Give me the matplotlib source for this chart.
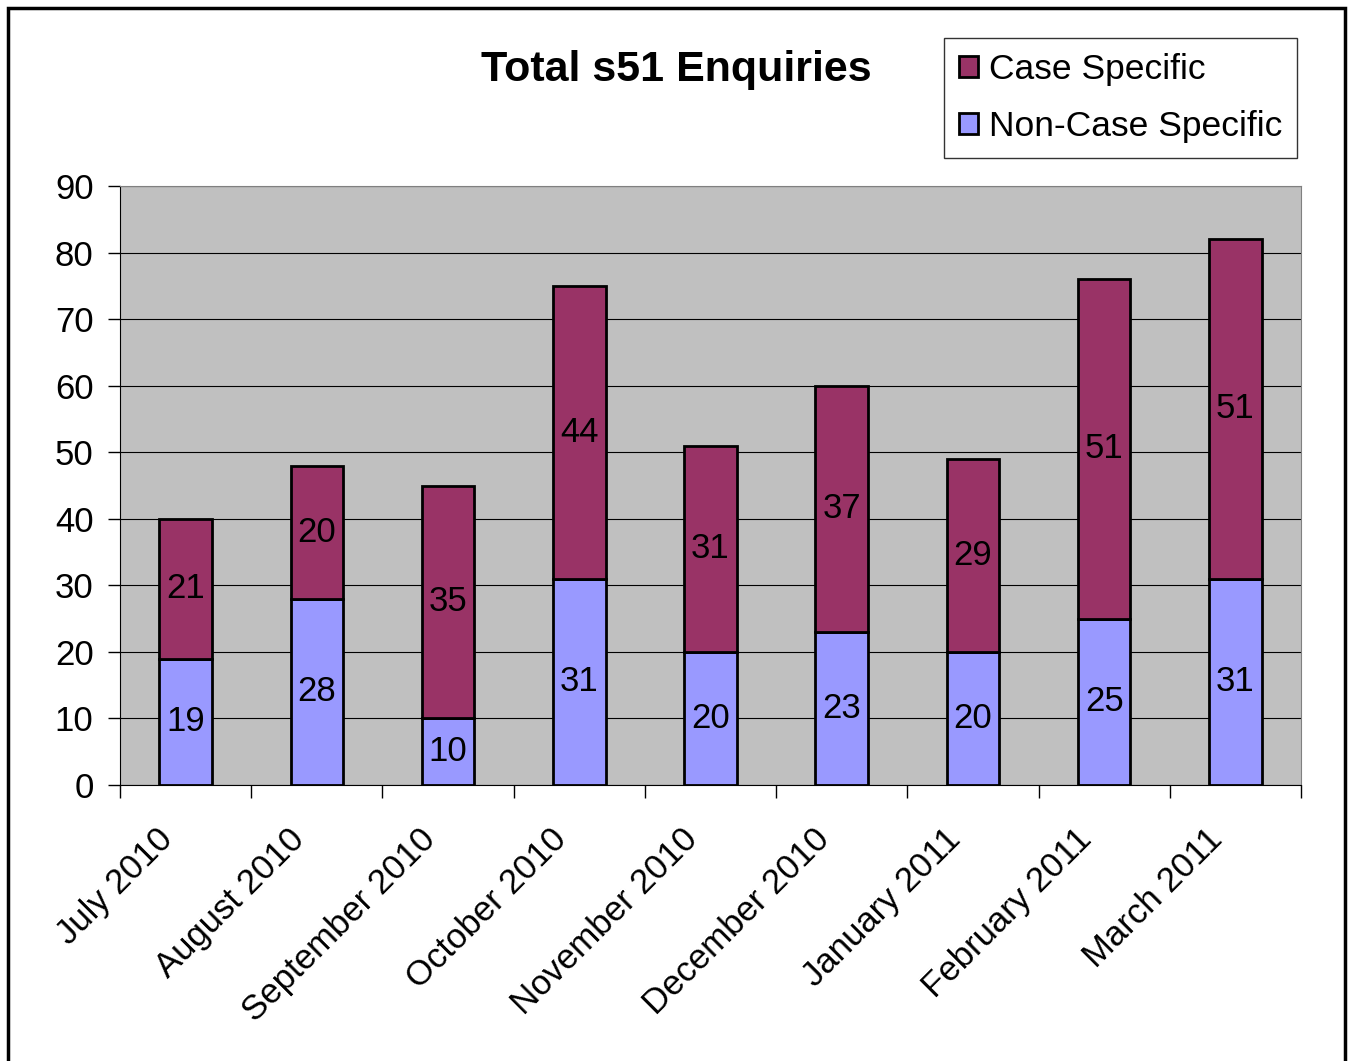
import numpy as np
import matplotlib
matplotlib.use("Agg")
import matplotlib.pyplot as plt
from matplotlib.patches import Rectangle
import matplotlib.transforms as mtransforms

months = ["July 2010", "August 2010", "September 2010", "October 2010",
          "November 2010", "December 2010", "January 2011", "February 2011",
          "March 2011"]
non_case = [19, 28, 10, 31, 20, 23, 20, 25, 31]
case_spec = [21, 20, 35, 44, 31, 37, 29, 51, 51]

plt.rcParams['font.family'] = ['Liberation Sans', 'DejaVu Sans']

fig = plt.figure(figsize=(13.5, 10.61), dpi=100)
fig.patches.append(Rectangle((8/1350, -0.01), 1337/1350, 1 - 8/1061 + 0.01,
                             transform=fig.transFigure, fill=False,
                             edgecolor='black', linewidth=2.5))

ax = fig.add_axes([120/1350, 1 - 785/1061, 1181/1350, 599/1061])
ax.set_facecolor('#C0C0C0')

x = np.arange(len(months))
w = 0.4
b1 = ax.bar(x, non_case, w, color='#9999FF', edgecolor='black', linewidth=2,
            label='Non-Case Specific', zorder=3)
b2 = ax.bar(x, case_spec, w, bottom=non_case, color='#993366', edgecolor='black',
            linewidth=2, label='Case Specific', zorder=3)

for i in range(len(months)):
    ax.text(x[i], non_case[i] / 2, str(non_case[i]), ha='center', va='center',
            fontsize=25, zorder=4)
    ax.text(x[i], non_case[i] + case_spec[i] / 2, str(case_spec[i]),
            ha='center', va='center', fontsize=25, zorder=4)

ax.set_xlim(-0.5, len(months) - 0.5)
ax.set_ylim(0, 90)
ax.set_yticks(range(0, 91, 10))
ax.yaxis.grid(True, color='black', linewidth=0.8, zorder=1)
ax.set_axisbelow(True)
ax.tick_params(axis='y', labelsize=25, length=9, width=1, direction='out', pad=10)

ax.set_xticks(x)
ax.set_xticklabels(months, rotation=45, ha='right', va='top', fontsize=25)
ax.tick_params(axis='x', length=0, pad=27)
shift = mtransforms.ScaledTranslation(-6/100, 0, fig.dpi_scale_trans)
for lab in ax.get_xticklabels():
    lab.set_transform(lab.get_transform() + shift)
ax.set_xticks(np.arange(-0.5, len(months), 1), minor=True)
ax.tick_params(axis='x', which='minor', length=9, width=1, direction='out')

for s in ['top', 'right']:
    ax.spines[s].set_color('#808080')
for s in ['left', 'bottom']:
    ax.spines[s].set_color('black')

fig.text(676/1350, 1 - 70/1061, 'Total s51 Enquiries', ha='center', va='center',
         fontsize=31, fontweight='bold')

handles = [b2, b1]
leg = fig.legend(handles, ['Case Specific', 'Non-Case Specific'],
                 loc='upper right', bbox_to_anchor=(1297/1350, 1 - 38/1061),
                 fontsize=25.5, frameon=True, fancybox=False, edgecolor='black',
                 handlelength=0.55, handleheight=0.55, handletextpad=0.3,
                 labelspacing=0.68, borderpad=0.42, borderaxespad=0)
leg.get_frame().set_linewidth(1)

fig.savefig('out.png', dpi=100)
